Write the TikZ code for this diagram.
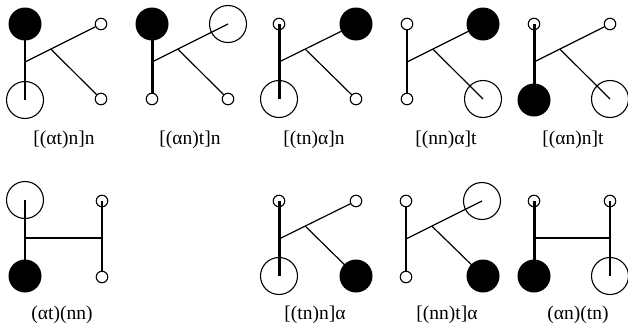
\documentclass[tikz,border=0pt]{standalone}
\usepackage{fontspec}
\setmainfont{Liberation Serif}
\usetikzlibrary{calc}
\begin{document}
\begin{tikzpicture}[x=1pt,y=-1pt,
  bigfill/.style={circle,fill=black,minimum size=33pt,inner sep=0pt},
  bigopen/.style={circle,draw,line width=1.1pt,minimum size=37pt,inner sep=0pt},
  smallc/.style={circle,draw,line width=1.1pt,minimum size=11.5pt,inner sep=0pt},
  thinb/.style={line width=1.2pt},
  lab/.style={font=\fontsize{19.5}{22}\selectfont,inner sep=0pt,anchor=center}]
\useasboundingbox (0,0) rectangle (628,332);
% ---- Panel 1 [(at)n]n
\node[bigfill] (a1t) at (25,24) {};
\node[bigopen] (a1b) at (25,100) {};
\node[smallc] (a1u) at (101,24) {};
\node[smallc] (a1l) at (101,99) {};
\coordinate (a1j) at (25,62);
\coordinate (a1m) at ($(a1j)!0.34!(a1u.center)$);
\draw[line width=2pt] (a1t.center) -- (a1b.center);
\draw[thinb] (a1j) -- (a1u);
\draw[thinb] (a1m) -- (a1l);
\node[lab] (a1x) at (64,140) {[(αt)n]n};
% ---- Panel 2 [(an)t]n
\node[bigfill] (a2t) at (152,24) {};
\node[smallc] (a2b) at (152,99) {};
\node[bigopen] (a2u) at (228,24) {};
\node[smallc] (a2l) at (228,99) {};
\coordinate (a2j) at (152,62);
\coordinate (a2m) at ($(a2j)!0.34!(a2u.center)$);
\draw[line width=3pt] (a2t.center) -- (a2b);
\draw[thinb] (a2j) -- (a2u.center);
\draw[thinb] (a2m) -- (a2l);
\node[lab] (a2x) at (190,140) {[(αn)t]n};
% ---- Panel 3 [(tn)a]n
\node[smallc] (a3t) at (279,24) {};
\node[bigopen] (a3b) at (279,99) {};
\node[bigfill] (a3u) at (356,24) {};
\node[smallc] (a3l) at (356,99) {};
\coordinate (a3j) at (279,62);
\coordinate (a3m) at ($(a3j)!0.34!(a3u.center)$);
\draw[line width=3pt] (a3t.center) -- (a3b.center);
\draw[thinb] (a3j) -- (a3u.center);
\draw[thinb] (a3m) -- (a3l);
\node[lab] (a3x) at (314,140) {[(tn)α]n};
% ---- Panel 4 [(nn)a]t
\node[smallc] (a4t) at (407,24) {};
\node[smallc] (a4b) at (407,99) {};
\node[bigfill] (a4u) at (483,24) {};
\node[bigopen] (a4l) at (483,99) {};
\coordinate (a4j) at (407,62);
\coordinate (a4m) at ($(a4j)!0.34!(a4u.center)$);
\draw[line width=1.7pt] (a4t) -- (a4b);
\draw[thinb] (a4j) -- (a4u.center);
\draw[thinb] (a4m) -- (a4l.center);
\node[lab] (a4x) at (446,140) {[(nn)α]t};
% ---- Panel 5 [(an)n]t
\node[smallc] (a5t) at (534,24) {};
\node[bigfill] (a5b) at (534,100) {};
\node[smallc] (a5u) at (610,24) {};
\node[bigopen] (a5l) at (610,99) {};
\coordinate (a5j) at (534,62);
\coordinate (a5m) at ($(a5j)!0.34!(a5u.center)$);
\draw[line width=3pt] (a5t.center) -- (a5b.center);
\draw[thinb] (a5j) -- (a5u);
\draw[thinb] (a5m) -- (a5l.center);
\node[lab] (a5x) at (573,140) {[(αn)n]t};
% ---- Panel 6 (at)(nn)
\node[bigopen] (b1t) at (25,200) {};
\node[bigfill] (b1b) at (25,276) {};
\node[smallc] (b1u) at (102,201) {};
\node[smallc] (b1l) at (102,277) {};
\coordinate (b1j) at (25,238);
\coordinate (b1k) at (102,238);
\draw[line width=2pt] (b1t.center) -- (b1b.center);
\draw[line width=2.5pt] (b1u.center) -- (b1l);
\draw[line width=2.7pt] (b1j) -- (b1k);
\node[lab] (b1x) at (62,315) {(αt)(nn)};
% ---- Panel 7 [(tn)n]a
\node[smallc] (b3t) at (279,201) {};
\node[bigopen] (b3b) at (279,276) {};
\node[smallc] (b3u) at (356,201) {};
\node[bigfill] (b3l) at (356,276) {};
\coordinate (b3j) at (279,239);
\coordinate (b3m) at ($(b3j)!0.34!(b3u.center)$);
\draw[line width=3pt] (b3t.center) -- (b3b.center);
\draw[thinb] (b3j) -- (b3u);
\draw[thinb] (b3m) -- (b3l.center);
\node[lab] (b3x) at (315,315) {[(tn)n]α};
% ---- Panel 8 [(nn)t]a
\node[smallc] (b4t) at (406,201) {};
\node[smallc] (b4b) at (406,277) {};
\node[bigopen] (b4u) at (482,201) {};
\node[bigfill] (b4l) at (483,276) {};
\coordinate (b4j) at (406,239);
\coordinate (b4m) at ($(b4j)!0.34!(b4u.center)$);
\draw[line width=1.7pt] (b4t) -- (b4b);
\draw[thinb] (b4j) -- (b4u.center);
\draw[thinb] (b4m) -- (b4l.center);
\node[lab] (b4x) at (447,315) {[(nn)t]α};
% ---- Panel 9 (an)(tn)
\node[smallc] (b5t) at (534,201) {};
\node[bigfill] (b5b) at (534,276) {};
\node[smallc] (b5u) at (610,201) {};
\node[bigopen] (b5l) at (610,276) {};
\coordinate (b5j) at (534,238);
\coordinate (b5k) at (610,238);
\draw[line width=3pt] (b5t.center) -- (b5b.center);
\draw[line width=1.7pt] (b5u.center) -- (b5l.center);
\draw[line width=2.5pt] (b5j) -- (b5k);
\node[lab] (b5x) at (578,315) {(αn)(tn)};
\end{tikzpicture}
\end{document}
